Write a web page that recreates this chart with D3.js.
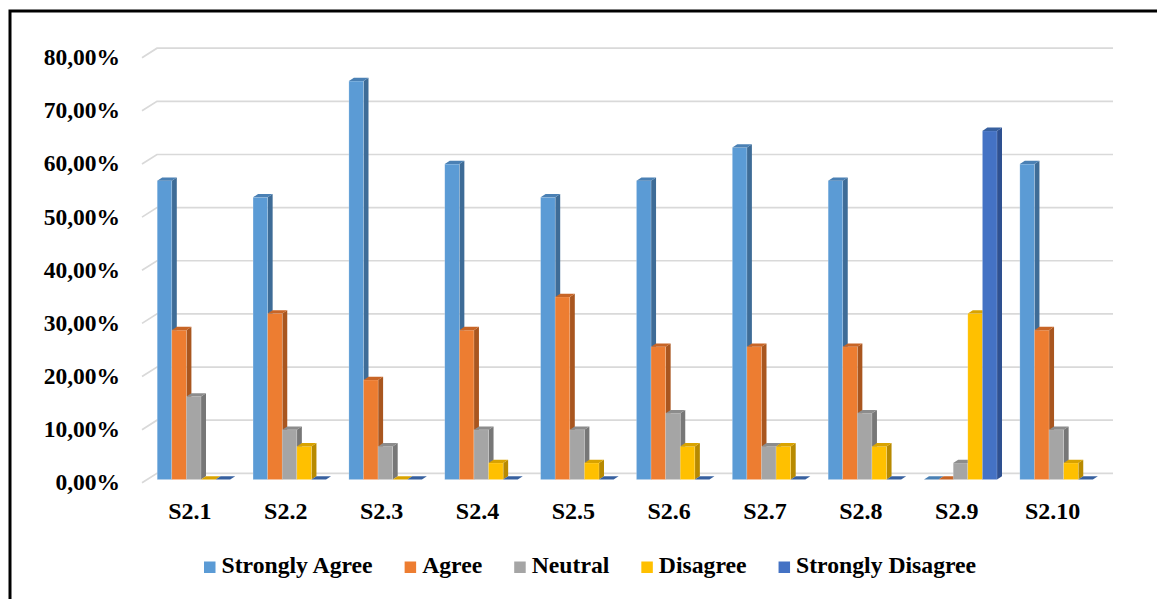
<!DOCTYPE html>
<html>
<head>
<meta charset="utf-8">
<script src="https://cdn.jsdelivr.net/npm/d3@7"></script>
<style>
  html, body { margin: 0; padding: 0; background: #ffffff; }
  svg { display: block; }
  text { font-family: "Liberation Serif", "Times New Roman", serif; font-weight: bold; fill: #000; }
</style>
</head>
<body>
<svg id="chart" width="1157" height="599"></svg>
<script>
// Survey items and the share of answers for each response option
const categories = ["S2.1", "S2.2", "S2.3", "S2.4", "S2.5", "S2.6", "S2.7", "S2.8", "S2.9", "S2.10"];
const seriesNames = ["Strongly Agree", "Agree", "Neutral", "Disagree", "Strongly Disagree"];
const stronglyAgree    = [56.25, 53.125, 75, 59.375, 53.125, 56.25, 62.5, 56.25, 0, 59.375];
const agree            = [28.125, 31.25, 18.75, 28.125, 34.375, 25, 25, 25, 0, 28.125];
const neutral          = [15.625, 9.375, 6.25, 9.375, 9.375, 12.5, 6.25, 12.5, 3.125, 9.375];
const disagree         = [0, 6.25, 0, 3.125, 3.125, 6.25, 6.25, 6.25, 31.25, 3.125];
const stronglyDisagree = [0, 0, 0, 0, 0, 0, 0, 0, 65.625, 0];
const yTicks = [0, 10, 20, 30, 40, 50, 60, 70, 80];

const seriesValues = [stronglyAgree, agree, neutral, disagree, stronglyDisagree];
const frontColors = ["#5B9BD5", "#ED7D31", "#A5A5A5", "#FFC000", "#4472C4"];
const sideColors  = ["#3E6C97", "#A9561F", "#777777", "#B88A00", "#2E5090"];
const topColors   = ["#4A80B4", "#C86526", "#8C8C8C", "#D9A300", "#37609F"];

const svg = d3.select("#chart");

// Outer frame (runs off the right and bottom edges)
svg.append("rect")
  .attr("x", 10).attr("y", 11)
  .attr("width", 1200).attr("height", 700)
  .attr("fill", "none").attr("stroke", "#000").attr("stroke-width", 3);

// Perspective offsets: back wall vs. front floor, and bar depth
const wallDx = 15, wallDy = -9.5;
const barDx = 5, barDy = -3.3;
const barDrop = 6.3;   // bar front plane sits slightly in front of the back wall

// Scales: y on the back wall, x on the front floor
const y = d3.scaleLinear().domain([0, 80]).range([473.3, 48.2]);
const x = d3.scaleBand().domain(categories).range([142, 1100.5]).paddingInner(0).paddingOuter(0);
const groupOffset = 15.2;
const barW = 14.6;
const xInner = d3.scaleBand().domain(seriesNames).range([0, barW * seriesNames.length]);

// Gridlines drawn on the back wall with a slanted lead-in on the side wall
const grid = svg.append("g");
yTicks.forEach(t => {
  const yb = y(t);
  grid.append("path")
    .attr("d", d3.line()([[142, yb - wallDy], [142 + wallDx, yb], [1113, yb]]))
    .attr("fill", "none").attr("stroke", "#D9D9D9").attr("stroke-width", 1.7);
});

// Y-axis tick labels, formatted with comma decimals
const fmt = v => d3.format(".2f")(v).replace(".", ",") + "%";
svg.append("g").selectAll("text")
  .data(yTicks).join("text")
  .attr("x", 120)
  .attr("y", d => y(d) + 9)
  .attr("text-anchor", "end")
  .attr("dominant-baseline", "central")
  .style("font-size", "23.5px")
  .text(fmt);

// 3D columns: front face, right side face and top face
const bars = svg.append("g");
categories.forEach((cat, ci) => {
  seriesNames.forEach((name, si) => {
    const v = seriesValues[si][ci];
    const x0 = x(cat) + groupOffset + xInner(name);
    const x1 = x0 + barW;
    const yTop = y(v) + barDrop;
    const yBot = y(0) + barDrop;
    const g = bars.append("g");
    if (yBot - yTop > 0.01) {
      g.append("path")
        .attr("d", `M${x1},${yTop} L${x1 + barDx},${yTop + barDy} L${x1 + barDx},${yBot + barDy} L${x1},${yBot} Z`)
        .attr("fill", sideColors[si]);
      g.append("rect")
        .attr("x", x0).attr("y", yTop)
        .attr("width", barW).attr("height", yBot - yTop)
        .attr("fill", frontColors[si])
        .attr("stroke", "rgba(255,255,255,0.35)").attr("stroke-width", 0.6);
    }
    g.append("path")
      .attr("d", `M${x0},${yTop} L${x0 + barDx},${yTop + barDy} L${x1 + barDx},${yTop + barDy} L${x1},${yTop} Z`)
      .attr("fill", topColors[si]);
  });
});

// Category labels
svg.append("g").selectAll("text")
  .data(categories).join("text")
  .attr("x", d => x(d) + x.bandwidth() / 2)
  .attr("y", 518.5)
  .attr("text-anchor", "middle")
  .style("font-size", "24px")
  .text(d => d);

// Legend laid out left to right
const legend = svg.append("g");
let lx = 204;
seriesNames.forEach((name, si) => {
  legend.append("rect")
    .attr("x", lx).attr("y", 561.5)
    .attr("width", 11.5).attr("height", 11.5)
    .attr("fill", frontColors[si]);
  const t = legend.append("text")
    .attr("x", lx + 17.5).attr("y", 573.3)
    .style("font-size", "23.7px")
    .text(name);
  lx = lx + 17.5 + t.node().getComputedTextLength() + 32;
});
</script>
</body>
</html>
